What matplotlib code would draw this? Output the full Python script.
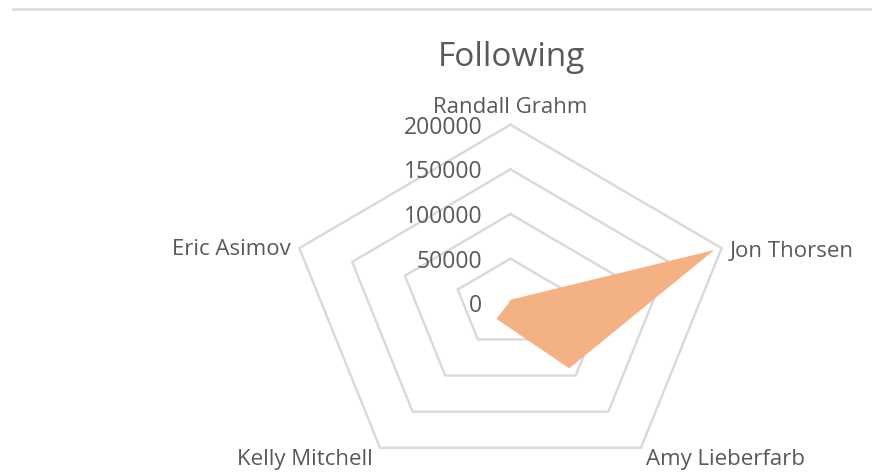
import numpy as np
import matplotlib
matplotlib.use("Agg")
import matplotlib.pyplot as plt
from matplotlib.transforms import offset_copy
from matplotlib.lines import Line2D

plt.rcParams['font.family'] = ['Open Sans', 'DejaVu Sans']

categories = ["Randall Grahm", "Jon Thorsen", "Amy Lieberfarb", "Kelly Mitchell", "Eric Asimov"]
following = [4000, 193000, 90000, 21500, 1500]
levels = [0, 50000, 100000, 150000, 200000]

grey_txt = '#595959'
grid_col = '#d9d9d9'

fig = plt.figure(figsize=(8.72, 4.77), dpi=100)

# polar axes stretched to an ellipse (the reference is wider than tall)
ax = fig.add_axes([0.3308, -0.0124, 0.5092, 0.7489], projection='polar')
ax.set_aspect('auto')
ax.set_theta_offset(np.pi / 2)
ax.set_theta_direction(-1)
ax.set_ylim(0, levels[-1])
ax.grid(False)
ax.spines['polar'].set_visible(False)
ax.set_xticks([])
ax.set_yticks([])

n = len(categories)
theta = np.arange(n) * 2 * np.pi / n
closed = np.append(theta, theta[0])

# pentagon grid
for lv in levels[1:]:
    ax.plot(closed, [lv] * (n + 1), color=grid_col, lw=1.7, zorder=1, clip_on=False)

# data
vals = following + following[:1]
ax.fill(closed, vals, color='#F4B183', lw=0, zorder=2, clip_on=False)

# value labels along the top spoke
tr = offset_copy(ax.transData, fig=fig, x=-28, y=-2, units='dots')
for lv in levels:
    ax.text(0, lv, str(lv), transform=tr, ha='right', va='center',
            fontsize=16.5, color=grey_txt)

# category labels
offsets = [(0, 18, 'center'), (8, -2, 'left'), (5, -11, 'left'),
           (-7, -11, 'right'), (-9, 0, 'right')]
for t, name, (dx, dy, ha) in zip(theta, categories, offsets):
    trc = offset_copy(ax.transData, fig=fig, x=dx, y=dy, units='dots')
    ax.text(t, levels[-1], name, transform=trc, ha=ha, va='center',
            fontsize=16, color=grey_txt)

# title
fig.text(511 / 872, 1 - 57 / 477, "Following", ha='center', va='center',
         fontsize=24, color=grey_txt)

# thin rule at the top
fig.add_artist(Line2D([13 / 872, 1], [1 - 10 / 477] * 2, transform=fig.transFigure,
                      color=grid_col, lw=1.8))

fig.savefig("out.png", dpi=100)
